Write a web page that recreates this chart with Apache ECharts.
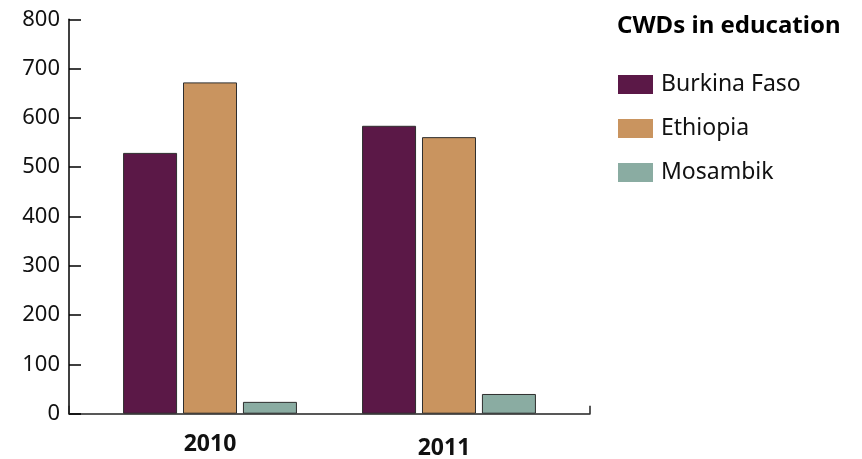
<!DOCTYPE html>
<html>
<head>
<meta charset="utf-8">
<script src="https://cdn.jsdelivr.net/npm/echarts@6/dist/echarts.min.js"></script>
<style>
  html, body { margin: 0; padding: 0; background: #fff; }
  #chart { width: 862px; height: 459px; }
</style>
</head>
<body>
<div id="chart"></div>
<script>
// Children with disabilities enrolled in education, by country and year
const years = [2010, 2011];
const countries = ['Burkina Faso', 'Ethiopia', 'Mosambik'];
const burkinaFaso = [529, 584];
const ethiopia = [672, 561];
const mosambik = [24, 40];
const yTicks = [0, 100, 200, 300, 400, 500, 600, 700, 800];

const colors = ['#5b1847', '#c9945f', '#8aaca2'];
const font = 'Noto Sans';

const chart = echarts.init(document.getElementById('chart'), null, { renderer: 'canvas' });

const seriesValues = [burkinaFaso, ethiopia, mosambik];

// Horizontal extent: half a year (plus a little) either side of the first/last year
const xMin = years[0] - 0.59;
const xMax = years[years.length - 1] + 0.59;

const yearLabelStyle = {
  fontFamily: font,
  fontSize: 23,
  fontWeight: 'bold',
  color: '#111'
};

chart.setOption({
  animation: false,
  backgroundColor: '#ffffff',
  title: {
    text: 'CWDs in education',
    left: 617,
    top: 14,
    padding: 0,
    textStyle: { fontFamily: font, fontSize: 24, fontWeight: 'bold', color: '#000' }
  },
  legend: {
    orient: 'vertical',
    left: 618,
    top: 73,
    padding: 0,
    itemWidth: 35,
    itemHeight: 19,
    itemGap: 21,
    icon: 'rect',
    itemStyle: { borderWidth: 0 },
    textStyle: { fontFamily: font, fontSize: 23, color: '#111', padding: [0, 0, 0, 3] },
    data: countries
  },
  grid: { left: 69, right: 272, top: 19.3, bottom: 45.3, outerBoundsMode: 'none', containLabel: false },
  xAxis: {
    type: 'value',
    min: xMin,
    max: xMax,
    splitLine: { show: false },
    axisLine: { show: true, lineStyle: { color: '#222', width: 1.5 } },
    axisTick: {
      show: true,
      inside: true,
      length: 8,
      customValues: [xMin, xMax],
      lineStyle: { color: '#222', width: 1.5 }
    },
    axisLabel: {
      margin: 19,
      customValues: years,
      formatter: v => (v === years[0] ? '{first|' + v + '}' : '{later|' + v + '}'),
      rich: {
        first: Object.assign({}, yearLabelStyle),
        later: Object.assign({}, yearLabelStyle, { padding: [4, 10, 0, 0] })
      }
    }
  },
  yAxis: {
    type: 'value',
    min: yTicks[0],
    max: yTicks[yTicks.length - 1],
    interval: 100,
    splitLine: { show: false },
    axisLine: { show: true, lineStyle: { color: '#000', width: 1.5 } },
    axisTick: { show: true, inside: true, length: 12, lineStyle: { color: '#000', width: 1.5 } },
    axisLabel: { margin: 9, fontFamily: font, fontSize: 22, color: '#111' }
  },
  series: countries.map((name, i) => ({
    name,
    type: 'bar',
    barWidth: 54,
    barGap: '11%',
    data: years.map((y, j) => [y, seriesValues[i][j]]),
    itemStyle: { color: colors[i], borderColor: '#2e2e2e', borderWidth: 1 }
  }))
});
</script>
</body>
</html>
